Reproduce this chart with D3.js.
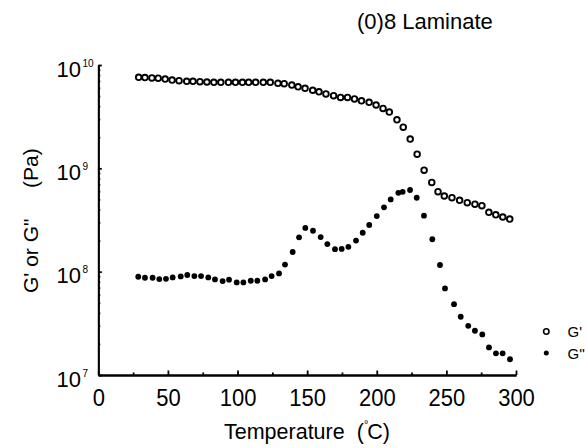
<!DOCTYPE html>
<html lang="en">
<head>
    <meta charset="UTF-8">
    <script src="https://d3js.org/d3.v7.min.js"></script>
    <style>
        body {margin: 0; background-color: #fff}
        svg {display: block; font-family: "Liberation Sans", Arial, sans-serif}
        .axis path, .axis line {stroke: #000; stroke-width: 1.8px}
    </style>
</head>
<body>
<svg class="chart"></svg>
<script type="text/javascript">
    // G' (storage modulus), temperature in C and value in Pa
    const gPrimeTemp = [29, 33.5, 38.5, 43, 48, 53, 58, 63.5, 68, 73, 78, 83, 88, 93.5, 98.5, 103.5, 108, 113,
        118.5, 123.5, 129, 133.5, 139, 143.5, 148.5, 154, 158.5, 163.5, 169, 174, 179, 184, 189, 194.5, 199.5,
        204.5, 209, 214.5, 219, 224, 229, 234, 239.5, 244, 248.5, 254, 259.5, 265, 270.5, 275.5, 280.5, 285.5,
        290.5, 295.5];
    const gPrimeVal = [7.6e9, 7.55e9, 7.5e9, 7.45e9, 7.3e9, 7.15e9, 7.05e9, 6.95e9, 6.95e9, 6.9e9, 6.85e9, 6.8e9,
        6.8e9, 6.8e9, 6.8e9, 6.8e9, 6.8e9, 6.8e9, 6.8e9, 6.8e9, 6.65e9, 6.6e9, 6.4e9, 6.15e9, 5.95e9, 5.7e9, 5.5e9,
        5.25e9, 5.05e9, 4.85e9, 4.85e9, 4.7e9, 4.5e9, 4.35e9, 4.1e9, 3.8e9, 3.5e9, 2.95e9, 2.5e9, 1.92e9, 1.37e9,
        9.6e8, 7.3e8, 5.95e8, 5.4e8, 5.2e8, 4.9e8, 4.65e8, 4.5e8, 4.35e8, 3.75e8, 3.55e8, 3.38e8, 3.23e8];

    // G'' (loss modulus)
    const gDoubleTemp = [28.7, 33.5, 39, 43.8, 48.6, 53.4, 59.2, 63.9, 69, 73.8, 79, 83.8, 89.3, 93.9, 99.4, 104.2,
        109.5, 114.2, 119.8, 124.5, 129.8, 134.1, 139.6, 144.2, 148.7, 154.2, 159.7, 164.5, 170, 174.8, 179.6, 185.1,
        189.9, 194.6, 200, 205.2, 210, 215.5, 218.6, 223.9, 228.7, 233.9, 239.9, 245.4, 249, 255.5, 260.3, 265.7,
        270.5, 275.8, 280.6, 285.6, 290.4, 295.7];
    const gDoubleVal = [8.93e7, 8.73e7, 8.73e7, 8.47e7, 8.53e7, 8.8e7, 9.0e7, 9.28e7, 9.06e7, 9.06e7, 8.8e7, 8.41e7,
        8.1e7, 8.36e7, 7.87e7, 7.87e7, 8.17e7, 8.17e7, 8.41e7, 9.06e7, 9.62e7, 1.17e8, 1.55e8, 2.15e8, 2.65e8, 2.49e8,
        2.16e8, 1.85e8, 1.65e8, 1.66e8, 1.74e8, 2.0e8, 2.38e8, 2.83e8, 3.45e8, 4.19e8, 5.0e8, 5.8e8, 5.93e8, 6.17e8,
        5.19e8, 3.48e8, 2.06e8, 1.16e8, 6.89e7, 4.85e7, 3.66e7, 2.99e7, 2.68e7, 2.47e7, 1.85e7, 1.62e7, 1.62e7, 1.42e7];

    const xMajorTicks = [0, 50, 100, 150, 200, 250, 300];
    const xMinorTicks = [25, 75, 125, 175, 225, 275];
    const yDecades = [7, 8, 9, 10];
    const legendLabels = ["G'", "G''"];

    let width = 587, height = 448;
    var svg = d3.select('.chart').attr('width', width).attr('height', height);

    var x = d3.scaleLinear().domain([0, 300]).range([98.3, 516]);
    var y = d3.scaleLog().domain([1e7, 1e10]).range([375, 65]);

    // minor log ticks 2..9 of each decade
    var yMinor = [];
    yDecades.slice(0, -1).forEach(e => {
        for (let m = 2; m <= 9; m++) yMinor.push(m * Math.pow(10, e));
    });

    svg.append('g').attr('class', 'axis')
        .attr('transform', 'translate(0,' + y(1e7) + ')')
        .call(d3.axisBottom(x).tickValues(xMinorTicks).tickSizeInner(-2.5).tickSizeOuter(0).tickFormat(''));
    var xAxis = svg.append('g').attr('class', 'axis')
        .attr('transform', 'translate(0,' + y(1e7) + ')')
        .call(d3.axisBottom(x).tickValues(xMajorTicks).tickSizeInner(-4.5).tickSizeOuter(0));
    xAxis.selectAll('text')
        .attr('y', null).attr('dy', null)
        .attr('transform', 'translate(0,31) scale(1,1.12)')
        .attr('fill', '#000').style('font-size', '22px').style('font-family', '"Liberation Sans", Arial, sans-serif');

    svg.append('g').attr('class', 'axis')
        .attr('transform', 'translate(' + x(0) + ',0)')
        .call(d3.axisLeft(y).tickValues(yMinor).tickSizeInner(-2).tickSizeOuter(0).tickFormat(''));
    svg.append('g').attr('class', 'axis')
        .attr('transform', 'translate(' + x(0) + ',0)')
        .call(d3.axisLeft(y).tickValues(yDecades.map(e => Math.pow(10, e))).tickSizeInner(-3.5).tickSizeOuter(0).tickFormat(''));

    // y tick labels 10^n
    yDecades.forEach(e => {
        let ty = y(Math.pow(10, e));
        svg.append('text').attr('x', 81).attr('y', ty + 11.5)
            .attr('text-anchor', 'end').style('font-size', '22px').text('10');
        svg.append('text').attr('x', 82.5).attr('y', ty + 1.5)
            .style('font-size', '10px').text(e);
    });

    // open circles G'
    svg.append('g').selectAll('circle').data(gPrimeTemp).enter().append('circle')
        .attr('cx', d => x(d))
        .attr('cy', (d, i) => y(gPrimeVal[i]))
        .attr('r', 2.8)
        .attr('fill', '#fff').attr('stroke', '#000').attr('stroke-width', 1.9);

    // filled dots G''
    svg.append('g').selectAll('circle').data(gDoubleTemp).enter().append('circle')
        .attr('cx', d => x(d))
        .attr('cy', (d, i) => y(gDoubleVal[i]))
        .attr('r', 2.9)
        .attr('fill', '#000');

    // title
    svg.append('text').attr('x', 357).attr('y', 29)
        .style('font-size', '22px').text('(0)8 Laminate');

    // x axis label
    var xl = svg.append('text').attr('x', 224).attr('y', 439).style('font-size', '21.5px');
    xl.append('tspan').text('Temperature');
    xl.append('tspan').attr('dx', 12).text('(');
    xl.append('tspan').attr('dx', 0).attr('dy', -11).style('font-size', '11px').text('°');
    xl.append('tspan').attr('dx', -1).attr('dy', 11).text('C)');

    // y axis label
    svg.append('text').attr('transform', 'translate(38,293) rotate(-90)')
        .style('font-size', '21px').text("G' or G\"");
    svg.append('text').attr('transform', 'translate(38,188) rotate(-90)')
        .style('font-size', '21px').text('(Pa)');

    // legend
    legendLabels.forEach((lab, i) => {
        let ly = 331.5 + i * 21.5;
        if (i === 0) {
            svg.append('circle').attr('cx', 546.3).attr('cy', ly).attr('r', 2.7)
                .attr('fill', '#fff').attr('stroke', '#000').attr('stroke-width', 1.6);
        } else {
            svg.append('circle').attr('cx', 546.3).attr('cy', ly).attr('r', 2.5).attr('fill', '#000');
        }
        svg.append('text').attr('x', 567.5).attr('y', ly + 5.5)
            .style('font-size', '15px').text(lab);
    });
</script>
</body>
</html>
